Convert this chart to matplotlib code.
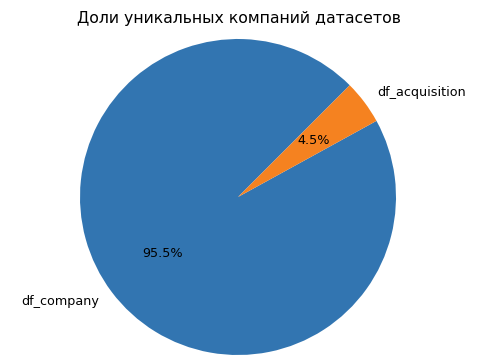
import matplotlib
matplotlib.use('Agg')
import matplotlib.pyplot as plt

# Data
labels = ['df_company', 'df_acquisition']
shares = [95.5, 4.5]

fig = plt.figure(figsize=(4.91, 3.63), dpi=100)
ax = fig.add_axes([0, 0, 1, 1])

ax.pie(shares, labels=labels, autopct='%1.1f%%', startangle=45,
       colors=['#3275b1', '#f58220'], textprops={'fontsize': 9.2})

# place the pie the same way as the reference (center ~ (238, 166) px, r ~ 158 px)
W, H, cx, cy, r = 491, 363, 238, 166, 158
ax.set_xlim(-cx / r, (W - cx) / r)
ax.set_ylim(-cy / r, (H - cy) / r)
ax.set_aspect('auto')
ax.axis('off')

fig.text(239 / W, 1 - 18 / H, 'Доли уникальных компаний датасетов',
         ha='center', va='center', fontsize=11.3)

fig.savefig('out.png', dpi=100)
